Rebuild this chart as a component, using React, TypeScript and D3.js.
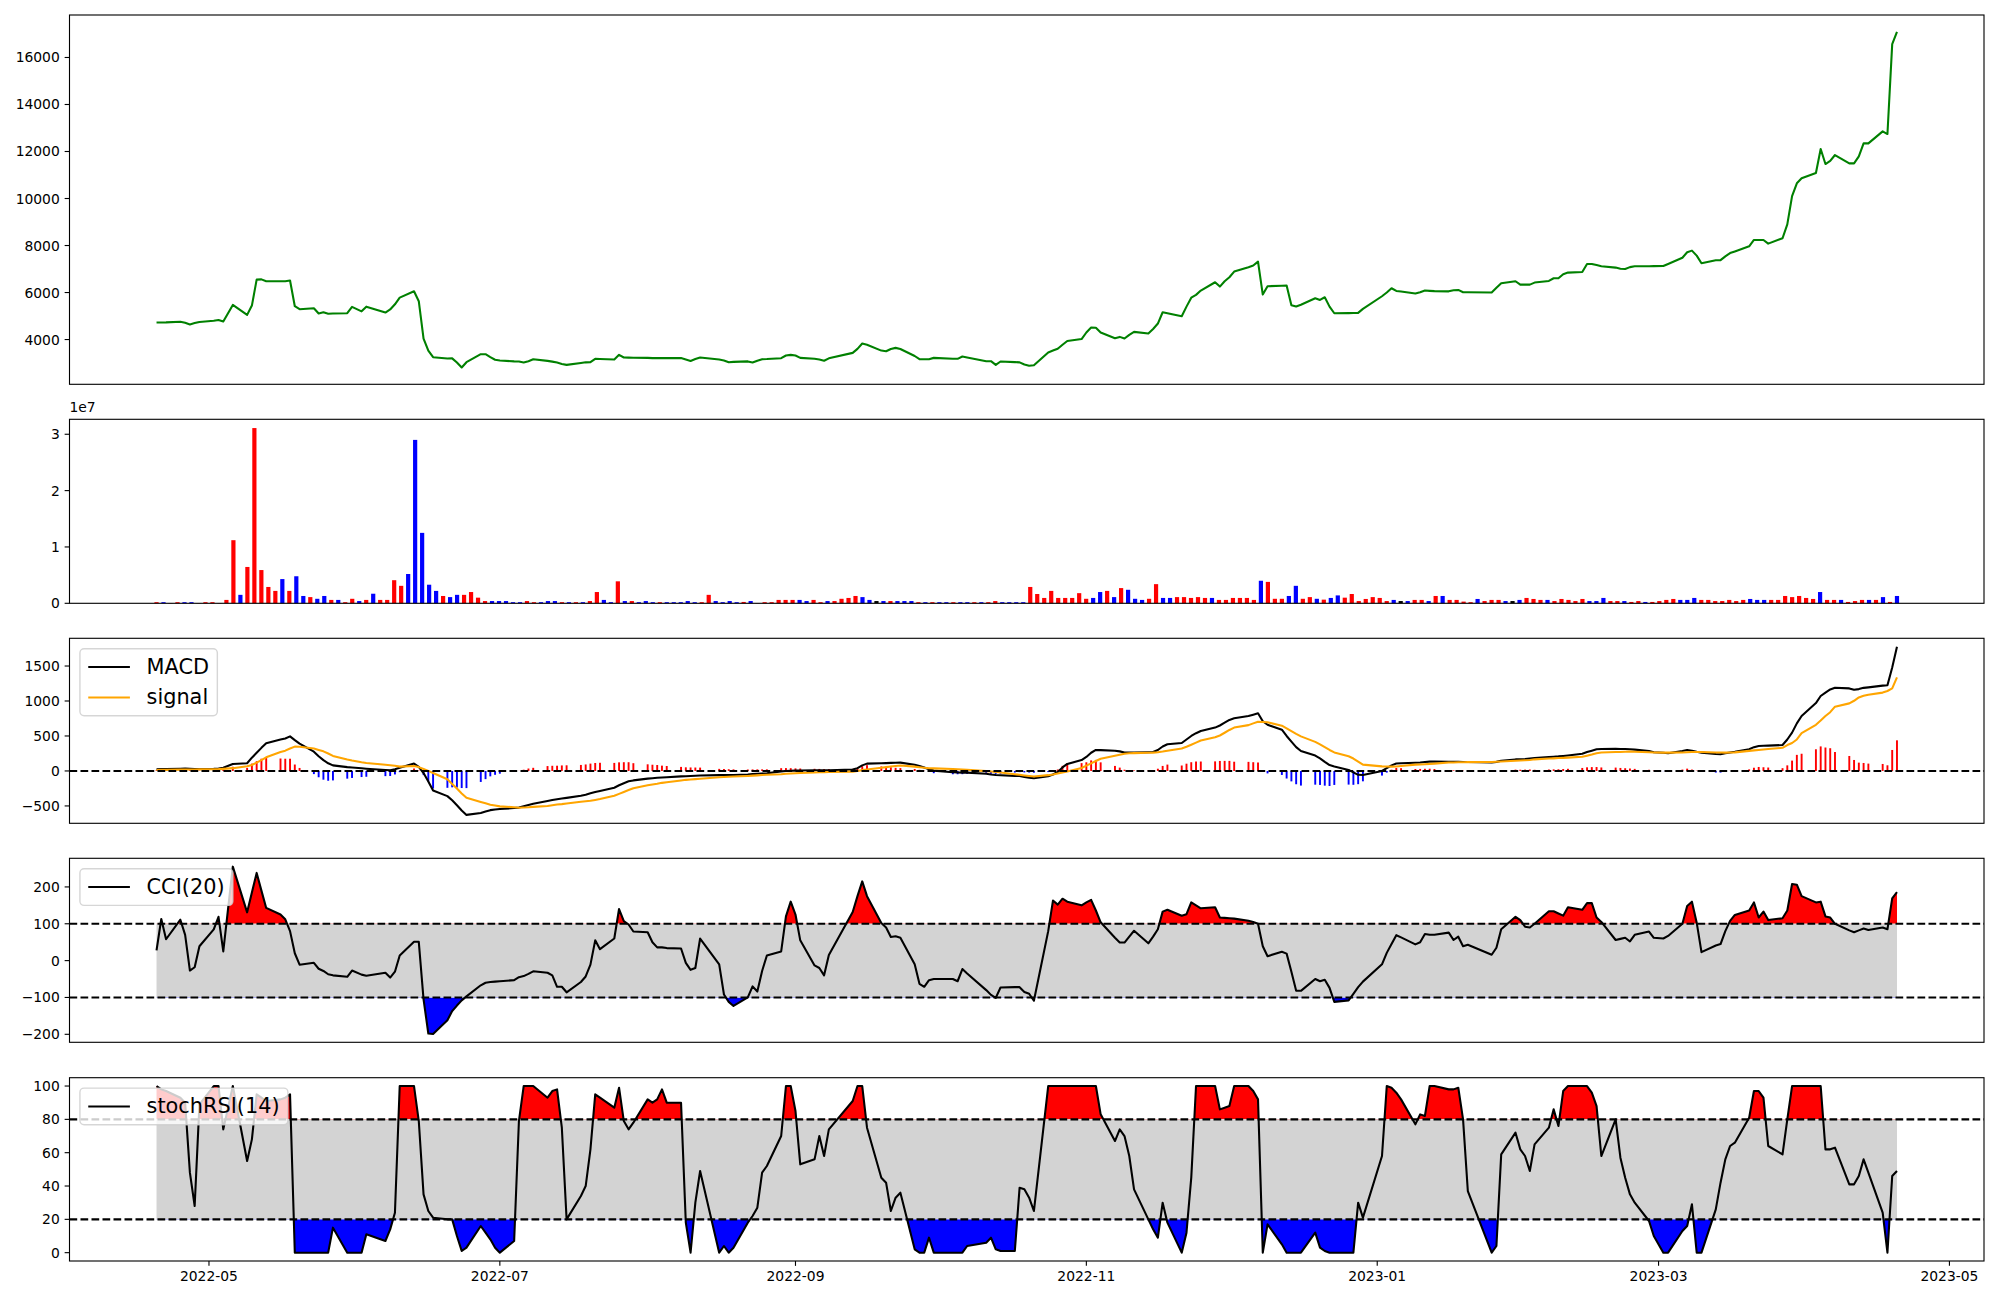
import * as d3 from 'd3';

// ---- data ----
const firstDay = '2022-04-20';
const lastDay = '2023-04-20';
const marketHolidays = [
  '2022-05-05', '2022-06-01', '2022-06-06', '2022-08-15', '2022-09-09', '2022-09-12',
  '2022-10-03', '2022-10-10', '2022-12-30', '2023-01-23', '2023-01-24', '2023-03-01',
];

const close = [
  4723, 4726, 4730, 4760, 4710, 4640, 4700, 4750, 4800, 4830,
  4765, 5474, 5050, 5445, 6550, 6560, 6480, 6480, 6480, 6510,
  5417, 5290, 5330, 5105, 5160, 5100, 5110, 5120, 5390, 5200,
  5400, 5150, 5280, 5500, 5785, 6055, 5630, 4042, 3532, 3250,
  3190, 3200, 3022, 2810, 3036, 3377, 3377, 3250, 3140, 3107,
  3070, 3065, 3020, 3080, 3160, 3093, 3060, 3020, 2960, 2923,
  3000, 3030, 3036, 3178, 3170, 3150, 3348, 3235, 3230, 3225,
  3220, 3210, 3210, 3210, 3210, 3210, 3150, 3090, 3170, 3235,
  3150, 3110, 3036, 3050, 3070, 3022, 3100, 3164, 3170, 3207,
  3320, 3348, 3320, 3220, 3180, 3150, 3100, 3200, 3433, 3603,
  3830, 3780, 3530, 3500, 3600, 3646, 3600, 3300, 3164, 3164,
  3164, 3220, 3180, 3180, 3277, 3240, 3080, 3079, 2923, 3065,
  3040, 3030, 2937, 2885, 2904, 3450, 3530, 3610, 3780, 3940,
  4020, 4300, 4510, 4500, 4298, 4057, 4113, 4043, 4200, 4326,
  4260, 4450, 4680, 5162, 5120, 4992, 5400, 5780, 5900, 6083,
  6437, 6253, 6480, 6650, 6891, 7080, 7150, 7316, 5913, 6267,
  6290, 6296, 5460, 5403, 5480, 5757, 5686, 5800, 5400, 5119,
  5125, 5130, 5134, 5304, 5842, 6000, 6182, 6069, 6040, 5956,
  6010, 6083, 6070, 6060, 6050, 6100, 6111, 6012, 6010, 5998,
  6200, 6394, 6480, 6338, 6338, 6338, 6423, 6494, 6607, 6607,
  6780, 6848, 6876, 7216, 7216, 7170, 7117, 7061, 7010, 7004,
  7080, 7117, 7120, 7125, 7131, 7216, 7480, 7713, 7783, 7571,
  7245, 7372, 7380, 7540, 7680, 7750, 7968, 8237, 8237, 8237,
  8081, 8308, 8900, 10100, 10646, 10860, 11085, 12105, 11468, 11600,
  11850, 11496, 11496, 11793, 12346, 12346, 12856, 12743, 16569, 17093,
];

// volume in units of 1e7
const volumeE7 = [
  0.02, 0.02, 0.005, 0.02, 0.02, 0.02, 0.005, 0.02, 0.02, 0.005,
  0.06, 1.12, 0.15, 0.645, 3.11, 0.59, 0.29, 0.22, 0.43, 0.22,
  0.48, 0.13, 0.11, 0.08, 0.13, 0.06, 0.06, 0.02, 0.08, 0.04,
  0.06, 0.17, 0.06, 0.06, 0.41, 0.31, 0.52, 2.9, 1.25, 0.33,
  0.22, 0.13, 0.11, 0.15, 0.15, 0.2, 0.1, 0.04, 0.04, 0.04,
  0.04, 0.02, 0.02, 0.04, 0.02, 0.02, 0.04, 0.04, 0.02, 0.02,
  0.02, 0.02, 0.04, 0.2, 0.06, 0.02, 0.39, 0.04, 0.04, 0.02,
  0.04, 0.02, 0.02, 0.02, 0.02, 0.02, 0.04, 0.02, 0.02, 0.15,
  0.04, 0.02, 0.04, 0.02, 0.024, 0.04, 0.005, 0.02, 0.02, 0.06,
  0.06, 0.06, 0.06, 0.04, 0.06, 0.02, 0.04, 0.04, 0.08, 0.095,
  0.13, 0.11, 0.06, 0.04, 0.04, 0.04, 0.04, 0.04, 0.04, 0.02,
  0.02, 0.02, 0.02, 0.02, 0.02, 0.02, 0.02, 0.02, 0.02, 0.02,
  0.04, 0.02, 0.02, 0.02, 0.02, 0.29, 0.165, 0.095, 0.22, 0.095,
  0.095, 0.095, 0.18, 0.08, 0.095, 0.2, 0.22, 0.11, 0.27, 0.24,
  0.08, 0.06, 0.08, 0.34, 0.095, 0.095, 0.11, 0.11, 0.095, 0.11,
  0.095, 0.095, 0.06, 0.06, 0.095, 0.095, 0.095, 0.06, 0.4, 0.38,
  0.08, 0.08, 0.13, 0.31, 0.08, 0.11, 0.08, 0.065, 0.095, 0.14,
  0.1, 0.165, 0.04, 0.077, 0.11, 0.095, 0.04, 0.06, 0.04, 0.04,
  0.06, 0.06, 0.04, 0.13, 0.13, 0.06, 0.06, 0.03, 0.02, 0.077,
  0.04, 0.06, 0.06, 0.04, 0.04, 0.06, 0.095, 0.077, 0.06, 0.06,
  0.04, 0.077, 0.06, 0.04, 0.077, 0.04, 0.04, 0.095, 0.04, 0.04,
  0.04, 0.024, 0.04, 0.024, 0.024, 0.04, 0.06, 0.077, 0.06, 0.06,
  0.095, 0.06, 0.06, 0.04, 0.04, 0.06, 0.04, 0.06, 0.077, 0.06,
  0.06, 0.06, 0.06, 0.13, 0.11, 0.13, 0.095, 0.077, 0.2, 0.06,
  0.06, 0.06, 0.024, 0.04, 0.06, 0.06, 0.06, 0.11, 0.024, 0.13,
];

// daily candle direction: u = up, d = down, n = unchanged
const volumeMove = [
  'uduudduuuu', 'uuduuuuudu', 'ddudduduud', 'uduuuudddd', 'dudduuuudd',
  'ddduudddud', 'uduuddudud', 'dduddddduu', 'dddduduuuu', 'uudduuduuu',
  'uddndudddu', 'dudduddudu', 'udddduuuuu', 'uuuuddudud', 'dduudduuuu',
  'uduuuuuudu', 'uudduududd', 'uuuuuuudnd', 'uududuuuud', 'uuudnduuud',
  'uuuuuddduu', 'duuduuuudd', 'duuuuuuudd', 'duuuuuuudu', 'uduuududud',
].join('');

const macdLine = [
  24, 26, 28, 32, 33, 31, 29, 27, 30, 36,
  45, 100, 110, 190, 260, 330, 395, 448, 465, 495,
  440, 390, 275, 210, 155, 110, 80, 55, 50, 38,
  32, 14, 10, 25, 45, 105, 60, -30, -150, -280,
  -360, -420, -490, -565, -628, -600, -580, -560, -550, -545,
  -530, -524, -505, -485, -468, -430, -416, -405, -395, -385,
  -355, -340, -320, -300, -285, -240, -205, -175, -148, -135,
  -110, -104, -98, -94, -90, -78, -75, -72, -68, -64,
  -60, -59, -58, -57, -50, -45, -40, -36, -32, -6,
  0, 3, 5, 7, 10, 10, 10, 10, 20, 40,
  80, 105, 110, 112, 115, 117, 119, 90, 70, 48,
  25, 5, -18, -22, -24, -24, -40, -50, -58, -62,
  -70, -72, -85, -95, -105, -76, -50, -15, 50, 100,
  155, 200, 260, 300, 298, 290, 280, 265, 262, 263,
  268, 270, 300, 350, 381, 400, 450, 500, 540, 571,
  620, 650, 690, 730, 752, 785, 805, 824, 710, 660,
  590, 500, 420, 340, 285, 220, 180, 130, 85, 65,
  15, -20, -55, -58, 0, 40, 80, 106, 110, 118,
  122, 128, 133, 133, 132, 131, 130, 129, 129, 122,
  130, 145, 165, 168, 172, 178, 183, 198, 203, 208,
  215, 222, 245, 270, 290, 310, 313, 318, 315, 313,
  311, 305, 285, 268, 260, 253, 285, 300, 290, 275,
  262, 242, 240, 252, 265, 275, 310, 340, 357, 360,
  362, 371, 450, 548, 680, 786, 970, 1071, 1120, 1165,
  1190, 1180, 1160, 1170, 1188, 1195, 1220, 1224, 1480, 1776,
];

const signalLine = [
  14, 15, 16, 19, 20, 21, 22, 23, 24, 26,
  30, 40, 66, 85, 120, 155, 195, 270, 290, 320,
  348, 347, 320, 300, 280, 250, 215, 165, 150, 125,
  115, 88, 82, 75, 62, 70, 55, 29, 1, -29,
  -119, -186, -252, -321, -383, -443, -463, -483, -495, -506,
  -520, -525, -523, -520, -513, -500, -490, -480, -474, -466,
  -441, -433, -425, -414, -402, -355, -328, -300, -273, -246,
  -205, -193, -183, -170, -161, -136, -127, -122, -117, -112,
  -90, -87, -83, -80, -71, -67, -63, -59, -55, -46,
  -41, -37, -32, -28, -21, -19, -17, -16, -10, 0,
  12, 22, 45, 55, 63, 72, 78, 62, 54, 45,
  38, 37, 29, 25, 22, 18, -2, -9, -16, -23,
  -47, -55, -64, -72, -80, -60, -50, -36, -23, -9,
  43, 76, 109, 142, 175, 218, 232, 247, 253, 255,
  260, 262, 268, 278, 290, 322, 346, 375, 405, 436,
  483, 507, 546, 586, 620, 655, 680, 703, 700, 695,
  647, 608, 569, 530, 494, 416, 380, 340, 300, 265,
  210, 178, 134, 90, 66, 63, 62, 64, 70, 90,
  93, 97, 101, 105, 120, 122, 124, 125, 126, 129,
  132, 135, 146, 150, 153, 157, 166, 177, 180, 184,
  187, 191, 202, 218, 235, 254, 263, 270, 272, 274,
  276, 275, 268, 263, 262, 262, 265, 267, 270, 271,
  270, 265, 263, 262, 264, 266, 287, 294, 300, 307,
  313, 331, 370, 400, 450, 540, 660, 720, 785, 840,
  919, 966, 1003, 1051, 1074, 1090, 1120, 1143, 1180, 1338,
];

const cci20 = [
  28, 113, 58, 111, 70, -27, -18, 39, 85, 119,
  25, 255, 131, 185, 238, 190, 143, 125, 112, 80,
  20, -11, -6, -22, -28, -37, -40, -44, -27, -38,
  -41, -33, -46, -30, 14, 51, 51, -105, -198, -199,
  -162, -137, -122, -108, -97, -67, -60, -58, -57, -56,
  -53, -45, -42, -36, -29, -33, -40, -71, -71, -86,
  -58, -43, -11, 55, 31, 60, 140, 107, 98, 79,
  77, 50, 36, 36, 34, 33, -6, -25, -20, 60,
  -10, -92, -112, -123, -100, -70, -84, -28, 14, 25,
  120, 160, 125, 55, -13, -20, -40, 15, 132, 175,
  215, 175, 102, 90, 64, 66, 62, -10, -63, -71,
  -53, -50, -50, -56, -23, -35, -80, -93, -101, -73,
  -72, -72, -85, -90, -109, 80, 163, 152, 168, 160,
  150, 158, 165, 136, 104, 62, 49, 49, 65, 81,
  47, 65, 85, 133, 138, 122, 126, 158, 150, 142,
  145, 117, 116, 115, 114, 108, 105, 100, 39, 12,
  24, 19, -30, -82, -82, -50, -56, -52, -74, -112,
  -108, -90, -72, -57, -10, 21, 45, 69, 63, 44,
  50, 72, 70, 70, 76, 56, 65, 39, 43, 16,
  35, 85, 119, 110, 92, 90, 100, 134, 134, 128,
  122, 145, 138, 156, 156, 117, 105, 56, 59, 62,
  52, 70, 79, 62, 60, 67, 100, 148, 160, 103,
  23, 41, 45, 80, 108, 124, 136, 158, 117, 133,
  110, 115, 136, 208, 206, 175, 158, 160, 120, 117,
  100, 82, 77, 82, 87, 83, 90, 85, 169, 186,
];

const stochRsi14 = [
  100, 98, 97, 93, 90, 48, 28, 89, 100, 100,
  74, 100, 55, 68, 95, 93, 91, 92, 93, 95,
  0, 0, 0, 0, 0, 0, 15, 0, 0, 0,
  11, 7, 14, 24, 100, 100, 79, 35, 25, 21,
  20, 20, 10, 1, 3, 16, 12, 8, 3, 0,
  7, 79, 100, 100, 100, 93, 97, 98, 75, 20,
  34, 40, 62, 95, 93, 87, 99, 79, 74, 78,
  92, 90, 92, 98, 90, 90, 18, 0, 30, 49,
  0, 4, 0, 3, 18, 22, 27, 48, 52, 70,
  100, 100, 85, 53, 56, 70, 58, 74, 91, 100,
  100, 75, 45, 42, 25, 33, 36, 2, 0, 0,
  9, 0, 0, 0, 0, 4, 6, 9, 2, 1,
  1, 39, 38, 33, 25, 100, 100, 100, 100, 100,
  100, 100, 100, 100, 83, 67, 74, 70, 58, 38,
  20, 14, 9, 30, 18, 0, 12, 45, 100, 100,
  100, 86, 87, 88, 100, 100, 97, 92, 0, 17,
  5, 0, 0, 0, 0, 12, 3, 1, 0, 0,
  0, 0, 30, 21, 58, 100, 99, 96, 92, 77,
  83, 82, 100, 100, 98, 98, 99, 80, 37, 0,
  4, 59, 72, 62, 58, 49, 65, 75, 86, 76,
  97, 100, 100, 100, 96, 88, 58, 80, 57, 45,
  35, 30, 19, 10, 0, 0, 13, 16, 29, 0,
  0, 26, 42, 56, 64, 66, 81, 97, 97, 93,
  64, 59, 80, 100, 100, 100, 100, 100, 62, 62,
  63, 41, 41, 46, 56, 48, 24, 0, 46, 49,
];

const priceTicks = [4000, 6000, 8000, 10000, 12000, 14000, 16000];
const volumeTicks = [0, 1, 2, 3];
const macdTicks = [-500, 0, 500, 1000, 1500];
const cciTicks = [-200, -100, 0, 100, 200];
const stochTicks = [0, 20, 40, 60, 80, 100];
const dateTicks = ['2022-05-01', '2022-07-01', '2022-09-01', '2022-11-01', '2023-01-01', '2023-03-01', '2023-05-01'];
const cciBand = [-100, 100];
const stochBand = [20, 80];

// ---- layout (figure is 2000x1300, matplotlib-like) ----
const W = 2000;
const H = 1300;
const LEFT = 69.5;
const RIGHT = 1984;
const PANELS = {
  price: [15, 384.3],
  volume: [419.3, 603.3],
  macd: [638.3, 823.3],
  cci: [858.3, 1042.3],
  stoch: [1077.7, 1261],
};
const FONT = '"DejaVu Sans", Verdana, sans-serif';
const TICK_FS = 13.89;
const LEG_FS = 20.83;
const LW = 2.08;
const SPINE = 1.11;
const TICK_LEN = 4.86;
const DASH = '7.7,3.3';

const parseDay = d3.timeParse('%Y-%m-%d');
const fmtDay = d3.timeFormat('%Y-%m-%d');

function tradingDays(): Date[] {
  const off = new Set(marketHolidays);
  const start = parseDay(firstDay) as Date;
  const stop = d3.timeDay.offset(parseDay(lastDay) as Date, 1);
  return d3.timeDay
    .range(start, stop)
    .filter((d) => d.getDay() !== 0 && d.getDay() !== 6 && !off.has(fmtDay(d)));
}

function padded(values: number[], top: number, bottom: number) {
  const [lo, hi] = d3.extent(values) as [number, number];
  const m = (hi - lo) * 0.05;
  return d3.scaleLinear().domain([lo - m, hi + m]).range([bottom, top]);
}

const fmtTick = (v: number) => (v < 0 ? '\u2212' : '') + Math.abs(v);

let measureCtx: CanvasRenderingContext2D | null = null;
function textWidth(s: string, size: number) {
  if (!measureCtx) measureCtx = document.createElement('canvas').getContext('2d');
  if (!measureCtx) return s.length * size * 0.6;
  measureCtx.font = `${size}px "DejaVu Sans"`;
  return measureCtx.measureText(s).width;
}

function Frame({ top, bottom }: { top: number; bottom: number }) {
  return (
    <rect
      x={LEFT}
      y={top}
      width={RIGHT - LEFT}
      height={bottom - top}
      fill="none"
      stroke="#000"
      strokeWidth={SPINE}
    />
  );
}

function YAxis({ scale, ticks }: { scale: d3.ScaleLinear<number, number>; ticks: number[] }) {
  return (
    <g>
      {ticks.map((t) => (
        <g key={t}>
          <line x1={LEFT} x2={LEFT - TICK_LEN} y1={scale(t)} y2={scale(t)} stroke="#000" strokeWidth={SPINE} />
          <text
            x={LEFT - 2 * TICK_LEN}
            y={scale(t)}
            textAnchor="end"
            dominantBaseline="central"
            fontSize={TICK_FS}
            fontFamily={FONT}
          >
            {fmtTick(t)}
          </text>
        </g>
      ))}
    </g>
  );
}

function Legend({ top, items }: { top: number; items: { label: string; color: string }[] }) {
  const pad = 0.4 * LEG_FS;
  const handle = 2 * LEG_FS;
  const gap = 0.8 * LEG_FS;
  const rowH = 0.96 * LEG_FS;
  const spacing = 0.5 * LEG_FS;
  const textW = Math.max(...items.map((d) => textWidth(d.label, LEG_FS)));
  const x0 = LEFT + 0.5 * LEG_FS;
  const y0 = top + 0.5 * LEG_FS;
  const w = pad * 2 + handle + gap + textW;
  const h = pad * 2 + items.length * rowH + (items.length - 1) * spacing;
  return (
    <g>
      <rect
        x={x0}
        y={y0}
        width={w}
        height={h}
        rx={0.2 * LEG_FS}
        fill="#fff"
        fillOpacity={0.8}
        stroke="#ccc"
        strokeOpacity={0.8}
        strokeWidth={1.39}
      />
      {items.map((d, i) => {
        const cy = y0 + pad + rowH / 2 + i * (rowH + spacing);
        return (
          <g key={d.label}>
            <line x1={x0 + pad} x2={x0 + pad + handle} y1={cy} y2={cy} stroke={d.color} strokeWidth={LW} />
            <text
              x={x0 + pad + handle + gap}
              y={cy}
              dominantBaseline="central"
              fontSize={LEG_FS}
              fontFamily={FONT}
            >
              {d.label}
            </text>
          </g>
        );
      })}
    </g>
  );
}

// Oscillator with a gray band, red fill above the band and blue fill below it
function BandPanel({
  id,
  top,
  bottom,
  values,
  band,
  ticks,
  label,
  xs,
}: {
  id: string;
  top: number;
  bottom: number;
  values: number[];
  band: number[];
  ticks: number[];
  label: string;
  xs: number[];
}) {
  const y = padded(values, top, bottom);
  const [lo, hi] = band;
  const above = d3
    .area<number>()
    .x((_, i) => xs[i])
    .y0(y(hi))
    .y1((v) => y(v));
  const below = d3
    .area<number>()
    .x((_, i) => xs[i])
    .y0(y(lo))
    .y1((v) => y(v));
  const line = d3
    .line<number>()
    .x((_, i) => xs[i])
    .y((v) => y(v));
  return (
    <g>
      <defs>
        <clipPath id={`${id}-hi`}>
          <rect x={LEFT} y={top} width={RIGHT - LEFT} height={y(hi) - top} />
        </clipPath>
        <clipPath id={`${id}-lo`}>
          <rect x={LEFT} y={y(lo)} width={RIGHT - LEFT} height={bottom - y(lo)} />
        </clipPath>
      </defs>
      <rect
        x={xs[0]}
        y={y(hi)}
        width={xs[xs.length - 1] - xs[0]}
        height={y(lo) - y(hi)}
        fill="#d3d3d3"
      />
      <path d={above(values) || ''} fill="#ff0000" clipPath={`url(#${id}-hi)`} />
      <path d={below(values) || ''} fill="#0000ff" clipPath={`url(#${id}-lo)`} />
      <path d={line(values) || ''} fill="none" stroke="#000" strokeWidth={LW} strokeLinejoin="round" />
      {band.map((b) => (
        <line
          key={b}
          x1={LEFT}
          x2={RIGHT}
          y1={y(b)}
          y2={y(b)}
          stroke="#000"
          strokeWidth={LW}
          strokeDasharray={DASH}
        />
      ))}
      <Legend top={top} items={[{ label, color: '#000' }]} />
      <Frame top={top} bottom={bottom} />
      <YAxis scale={y} ticks={ticks} />
    </g>
  );
}

export default function App() {
  const allDays = tradingDays();
  const n = Math.min(allDays.length, close.length, volumeE7.length, macdLine.length, signalLine.length, cci20.length, stochRsi14.length);
  const dates = allDays.slice(0, n);

  const t0 = dates[0].getTime();
  const t1 = dates[n - 1].getTime();
  const span = t1 - t0;
  const x = d3
    .scaleTime()
    .domain([new Date(t0 - 0.05 * span), new Date(t1 + 0.05 * span)])
    .range([LEFT, RIGHT]);
  const xs = dates.map((d) => x(d));

  // volume is drawn against the bar index
  const xi = d3
    .scaleLinear()
    .domain([-0.05 * (n - 1), 1.05 * (n - 1)])
    .range([LEFT, RIGHT]);

  const [pTop, pBot] = PANELS.price;
  const yPrice = padded(close.slice(0, n), pTop, pBot);
  const priceLine = d3
    .line<number>()
    .x((_, i) => xs[i])
    .y((v) => yPrice(v));

  const [vTop, vBot] = PANELS.volume;
  const vols = volumeE7.slice(0, n);
  const yVol = d3
    .scaleLinear()
    .domain([0, (d3.max(vols) as number) * 1.05])
    .range([vBot, vTop]);
  const volW = xi(0.6) - xi(0);
  const moveColor: Record<string, string> = { u: '#ff0000', d: '#0000ff', n: '#000000' };

  const [mTop, mBot] = PANELS.macd;
  const macd = macdLine.slice(0, n);
  const signal = signalLine.slice(0, n);
  const hist = macd.map((v, i) => v - signal[i]);
  const yMacd = padded([...macd, ...signal, ...hist], mTop, mBot);
  const histW = x(new Date(t0 + 0.4 * 864e5)) - x(new Date(t0));
  const macdPath = d3
    .line<number>()
    .x((_, i) => xs[i])
    .y((v) => yMacd(v));

  const [sTop, sBot] = PANELS.stoch;
  const fmtMonth = d3.timeFormat('%Y-%m');

  return (
    <div style={{ position: 'fixed', left: 0, top: 0, width: W, height: H, background: '#fff' }}>
      <svg width={W} height={H} viewBox={`0 0 ${W} ${H}`} style={{ display: 'block' }}>
        <rect width={W} height={H} fill="#fff" />

        {/* price */}
        <path
          d={priceLine(close.slice(0, n)) || ''}
          fill="none"
          stroke="#008000"
          strokeWidth={LW}
          strokeLinejoin="round"
        />
        <Frame top={pTop} bottom={pBot} />
        <YAxis scale={yPrice} ticks={priceTicks} />

        {/* volume */}
        {vols.map((v, i) => (
          <rect
            key={i}
            x={xi(i) - volW / 2}
            y={yVol(v)}
            width={volW}
            height={yVol(0) - yVol(v)}
            fill={moveColor[volumeMove[i]] || '#000'}
          />
        ))}
        <Frame top={vTop} bottom={vBot} />
        <YAxis scale={yVol} ticks={volumeTicks} />
        <text x={LEFT} y={vTop - 7} fontSize={TICK_FS} fontFamily={FONT}>
          1e7
        </text>

        {/* MACD */}
        {hist.map((v, i) => (
          <rect
            key={i}
            x={xs[i] - histW / 2}
            y={Math.min(yMacd(v), yMacd(0))}
            width={histW}
            height={Math.abs(yMacd(v) - yMacd(0))}
            fill={v >= 0 ? '#ff0000' : '#0000ff'}
          />
        ))}
        <path d={macdPath(macd) || ''} fill="none" stroke="#000" strokeWidth={LW} strokeLinejoin="round" />
        <path d={macdPath(signal) || ''} fill="none" stroke="#ffa500" strokeWidth={LW} strokeLinejoin="round" />
        <line
          x1={LEFT}
          x2={RIGHT}
          y1={yMacd(0)}
          y2={yMacd(0)}
          stroke="#000"
          strokeWidth={LW}
          strokeDasharray={DASH}
        />
        <Legend
          top={mTop}
          items={[
            { label: 'MACD', color: '#000' },
            { label: 'signal', color: '#ffa500' },
          ]}
        />
        <Frame top={mTop} bottom={mBot} />
        <YAxis scale={yMacd} ticks={macdTicks} />

        {/* CCI */}
        <BandPanel
          id="cci"
          top={PANELS.cci[0]}
          bottom={PANELS.cci[1]}
          values={cci20.slice(0, n)}
          band={cciBand}
          ticks={cciTicks}
          label="CCI(20)"
          xs={xs}
        />

        {/* stochRSI */}
        <BandPanel
          id="stoch"
          top={sTop}
          bottom={sBot}
          values={stochRsi14.slice(0, n)}
          band={stochBand}
          ticks={stochTicks}
          label="stochRSI(14)"
          xs={xs}
        />

        {/* date axis */}
        {dateTicks.map((s) => {
          const d = parseDay(s) as Date;
          const px = x(d);
          return (
            <g key={s}>
              <line x1={px} x2={px} y1={sBot} y2={sBot + TICK_LEN} stroke="#000" strokeWidth={SPINE} />
              <text
                x={px}
                y={sBot + 2 * TICK_LEN + 10.2}
                textAnchor="middle"
                fontSize={TICK_FS}
                fontFamily={FONT}
              >
                {fmtMonth(d)}
              </text>
            </g>
          );
        })}
      </svg>
    </div>
  );
}
